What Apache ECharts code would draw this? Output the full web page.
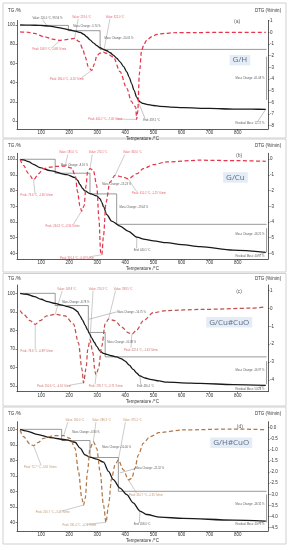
<!DOCTYPE html>
<html><head><meta charset="utf-8">
<script src="https://cdn.jsdelivr.net/npm/echarts@6/dist/echarts.min.js"></script>
<style>html,body{margin:0;padding:0;background:#fff}#c{width:288px;height:550px}</style>
</head><body><div id="c"></div>
<script>
// ---------- tick labels ----------
const tempTicks=[100,200,300,400,500,600,700,800];
const tgTicksA=[0,20,40,60,80,100];
const dtgTicksA=[1,0,-1,-2,-3,-4,-5,-6,-7,-8];
const tgTicksB=[40,50,60,70,80,90,100];
const dtgTicksB=[0,-1,-2,-3,-4,-5,-6];
const tgTicksC=[50,60,70,80,90,100];
const dtgTicksC=[1,0,-1,-2,-3,-4];
const tgTicksD=[40,50,60,70,80,90,100];
const dtgTicksD=[0,-0.5,-1,-1.5,-2,-2.5,-3,-3.5,-4,-4.5];
const sampleNames=['G/H','G/Cu','G/Cu#CuO','G/H#CuO'];
const panelTags=['(a)','(b)','(c)','(d)'];

// ---------- (a) G/H ----------
const tgA=[[25,100],[60,99.9],[96,99.6],[130,98.9],[156,97.6],[180,96.3],[203,94.8],[222,93.6],[239,92.3],[252,90.3],[262,87.8],[274,84.6],[286,81.5],[298,78.6],[310,76.3],[322,74.6],[334,73.2],[346,71.1],[357,68.6],[369,65.4],[381,61.7],[393,57],[405,51.2],[414,45.5],[422,39],[431,32],[440,25],[447,21.8],[452,19.9],[463,18.3],[476,17.4],[500,16.2],[523,15.3],[560,14.5],[606,13.9],[700,13.1],[784,12.5],[850,12.3],[900,12.2]];
const dtgA=[[25,0.05],[50,0.02],[76,-0.09],[112,-0.37],[140,-0.58],[168,-0.68],[195,-0.6],[219,-0.51],[236,-0.8],[248,-1.4],[257,-2.1],[268,-2.94],[280,-3.26],[290,-2.7],[298,-2.0],[310,-1.78],[322,-1.72],[334,-1.8],[357,-2.1],[381,-3.37],[405,-4.8],[422,-5.94],[432,-6.3],[437,-6.4],[440,-7.46],[444,-6.8],[450,-3.5],[458,-1.5],[467,-1.0],[476,-0.66],[495,-0.35],[512,-0.17],[540,-0.08],[571,-0.03],[650,-0.01],[800,0],[900,0]];
// ---------- (b) G/Cu ----------
const tgB=[[25,100],[37,99.6],[55,98.5],[73,96.8],[96,94.7],[132,92.8],[191,90.2],[221,88.3],[230,86.5],[238,84],[247,81.5],[256,79.8],[274,78.1],[298,76.6],[310,74.7],[316,72.5],[322,69.8],[334,64.7],[351,60.6],[381,57.4],[411,54],[441,50.3],[470,48.9],[500,47.9],[547,46.8],[600,45.6],[666,44.3],[784,42.1],[900,40.57]];
const dtgB=[[25,0],[37,-0.39],[55,-0.92],[73,-1.31],[91,-0.92],[108,-0.6],[132,-0.5],[156,-0.45],[185,-0.44],[209,-0.56],[221,-1.03],[230,-2.1],[238,-2.97],[244,-3.3],[253,-2.97],[260,-1.68],[265,-0.82],[274,-0.6],[286,-0.71],[298,-1.68],[306,-3.83],[312,-5.98],[316,-6.09],[322,-4.9],[331,-2.75],[345,-1.46],[363,-1.03],[393,-1.14],[410,-1.25],[441,-0.92],[464,-0.6],[500,-0.34],[547,-0.17],[666,-0.06],[800,-0.09],[900,-0.13]];
// ---------- (c) G/Cu#CuO ----------
const tgC=[[25,100],[48,99.5],[76,98.2],[100,96.8],[123,95.5],[150,94.6],[170,93.8],[195,92.8],[212,92],[222,91],[229,90.2],[238,88],[247,85.7],[256,83],[265,80.4],[273,78],[280,75.9],[289,73.6],[298,71.4],[310,68.8],[322,67.6],[334,67],[351,66.3],[369,65.7],[384,64.8],[399,63.4],[414,61.2],[428,58.9],[440,57],[452,55.4],[470,54.3],[488,53.6],[520,52.7],[547,52.1],[600,51.7],[666,51.4],[784,50.7],[900,50.28]];
const dtgC=[[25,-0.11],[37,-0.32],[61,-0.68],[79,-0.89],[96,-0.68],[120,-0.41],[150,-0.32],[185,-0.41],[215,-0.86],[233,-1.93],[245,-3.36],[251,-4.16],[260,-3.36],[266,-2.29],[274,-1.75],[284,-2.46],[292,-3.54],[296,-3.71],[304,-3.36],[316,-2.11],[328,-0.86],[340,-0.59],[363,-0.68],[387,-1.04],[411,-1.36],[423,-1.43],[440,-1.21],[464,-0.68],[500,-0.23],[547,-0.11],[666,-0.05],[850,0.02],[900,0.1]];
// ---------- (d) G/H#CuO ----------
const tgD=[[25,100],[49,98.9],[85,96.8],[132,94.7],[191,93.2],[221,91.7],[239,87.9],[256,83.6],[274,82.1],[298,80.9],[322,78.9],[340,73],[357,67.7],[381,62.3],[405,58.1],[428,52.8],[452,47.5],[476,45.3],[523,43.6],[606,42.8],[784,41.7],[900,41.0]];
const dtgD=[[25,-0.1],[37,-0.4],[61,-0.75],[73,-0.81],[90,-0.66],[108,-0.48],[144,-0.36],[180,-0.36],[203,-0.48],[221,-0.93],[233,-1.98],[245,-3.18],[251,-3.48],[257,-3.18],[265,-1.98],[274,-0.93],[286,-0.63],[298,-0.93],[310,-1.98],[322,-3.48],[331,-4.26],[340,-3.48],[351,-2.28],[363,-1.68],[375,-1.45],[393,-1.9],[411,-2.35],[423,-2.28],[434,-1.83],[446,-1.23],[464,-0.7],[488,-0.4],[523,-0.21],[606,-0.1],[784,-0.06],[900,-0.09]];

// ---------- annotations (data coordinates) ----------
const notesA=[
 {t:'Value: 120.0 °C, 99.56 %',ax:'t',p:[67,106.6],al:'l',c:'k',l:[[120,99.6],[105,105.6]]},
 {t:'Value: 219.0 °C',ax:'d',p:[209,1.3],al:'l',c:'r',l:[[219,-0.51],[232,1.15]]},
 {t:'Value: 322.0 °C',ax:'d',p:[328,1.3],al:'l',c:'r',l:[[322,-1.72],[345,1.15]]},
 {t:'Mass Change: -5.74 %',ax:'t',p:[213,98.3],al:'l',c:'k'},
 {t:'Mass Change: -20.05 %',ax:'t',p:[324,86],al:'l',c:'k'},
 {t:'Mass Change: -61.08 %',ax:'t',p:[897,44.3],al:'r',c:'k'},
 {t:'Peak: 168.5 °C, -0.68 %/min',ax:'d',p:[67,-1.43],al:'l',c:'r',l:[[168,-0.68],[135,-1.38]]},
 {t:'Peak: 280.0 °C, -3.26 %/min',ax:'d',p:[130,-4.0],al:'l',c:'r',l:[[280,-3.26],[240,-3.95]]},
 {t:'Peak: 440.2 °C, -7.46 %/min',ax:'d',p:[266,-7.43],al:'l',c:'r',l:[[440,-7.46],[370,-7.43]]},
 {t:'End: 459.5 °C',ax:'t',p:[462,0.5],al:'l',c:'k',l:[[445,21],[470,2.5]]},
 {t:'Residual Mass: 12.17 %',ax:'t',p:[897,-2.8],al:'r',c:'k',l:[[900,12.2],[870,-1]]}
];
const notesB=[
 {t:'Value: 185.0 °C',ax:'d',p:[162,0.43],al:'l',c:'r',l:[[185,-0.44],[195,0.3]]},
 {t:'Value: 274.1 °C',ax:'d',p:[268,0.43],al:'l',c:'r',l:[[274,-0.6],[282,0.3]]},
 {t:'Value: 363.0 °C',ax:'d',p:[390,0.43],al:'l',c:'r',l:[[363,-1.03],[398,0.3]]},
 {t:'Mass Change: -8.16 %',ax:'t',p:[168,96],al:'l',c:'k'},
 {t:'Mass Change: -13.23 %',ax:'t',p:[316,84],al:'l',c:'k'},
 {t:'Mass Change: -19.44 %',ax:'t',p:[377,69.1],al:'l',c:'k'},
 {t:'Mass Change: -18.25 %',ax:'t',p:[897,52.1],al:'r',c:'k'},
 {t:'Peak: 73.6 °C, -1.30 %/min',ax:'d',p:[25,-2.28],al:'l',c:'r',l:[[73,-1.31],[78,-2.18]]},
 {t:'Peak: 244.3 °C, -3.30 %/min',ax:'d',p:[114,-4.26],al:'l',c:'r',l:[[244,-3.3],[215,-4.15]]},
 {t:'Peak: 316.4 °C, -6.09 %/min',ax:'d',p:[165,-6.3],al:'l',c:'r',l:[[316,-6.09],[272,-6.22]]},
 {t:'Peak: 410.2 °C, -1.25 %/min',ax:'d',p:[422,-2.15],al:'l',c:'r',l:[[410,-1.25],[440,-2.05]]},
 {t:'End: 440.1 °C',ax:'t',p:[428,42.1],al:'l',c:'k',l:[[441,50.3],[440,43.2]]},
 {t:'Residual Mass: 40.57 %',ax:'t',p:[897,37.9],al:'r',c:'k',l:[[900,40.6],[870,38.6]]}
];
const notesC=[
 {t:'Value: 149.8 °C',ax:'d',p:[156,1.1],al:'l',c:'r',l:[[150,-0.32],[175,1.0]]},
 {t:'Value: 274.3 °C',ax:'d',p:[268,1.1],al:'l',c:'r',l:[[274,-1.75],[285,1.0]]},
 {t:'Value: 339.5 °C',ax:'d',p:[357,1.1],al:'l',c:'r',l:[[340,-0.59],[365,1.0]]},
 {t:'Mass Change: -8.78 %',ax:'t',p:[173,95.4],al:'l',c:'k'},
 {t:'Mass Change: -16.75 %',ax:'t',p:[369,90],al:'l',c:'k',l:[[270,86],[369,90]]},
 {t:'Mass Change: -10.38 %',ax:'t',p:[334,73.6],al:'l',c:'k'},
 {t:'Mass Change: -16.97 %',ax:'t',p:[897,58.6],al:'r',c:'k'},
 {t:'Peak: 78.6 °C, -0.89 %/min',ax:'d',p:[25,-2.38],al:'l',c:'r',l:[[79,-0.89],[79,-2.26]]},
 {t:'Peak: 250.6 °C, -4.16 %/min',ax:'d',p:[84,-4.34],al:'l',c:'r',l:[[251,-4.16],[200,-4.3]]},
 {t:'Peak: 295.7 °C, -3.71 %/min',ax:'d',p:[268,-4.34],al:'l',c:'r',l:[[296,-3.71],[292,-4.25]]},
 {t:'Peak: 422.6 °C, -1.43 %/min',ax:'d',p:[393,-2.32],al:'l',c:'r',l:[[423,-1.43],[420,-2.2]]},
 {t:'End: 456.4 °C',ax:'t',p:[440,49.6],al:'l',c:'k',l:[[452,55.4],[455,50.6]]},
 {t:'Residual Mass: 50.28 %',ax:'t',p:[897,48.2],al:'r',c:'k',l:[[900,50.3],[870,48.9]]}
];
const notesD=[
 {t:'Value: 180.0 °C',ax:'d',p:[185,0.34],al:'l',c:'r',l:[[180,-0.36],[195,0.25]]},
 {t:'Value: 286.3 °C',ax:'d',p:[280,0.34],al:'l',c:'r',l:[[286,-0.63],[295,0.25]]},
 {t:'Value: 375.2 °C',ax:'d',p:[390,0.34],al:'l',c:'r',l:[[375,-1.45],[400,0.25]]},
 {t:'Mass Change: -6.90 %',ax:'t',p:[209,98.1],al:'l',c:'k'},
 {t:'Mass Change: -10.40 %',ax:'t',p:[316,88.3],al:'l',c:'k'},
 {t:'Mass Change: -21.52 %',ax:'t',p:[434,74.7],al:'l',c:'k',l:[[380,72],[434,74.7]]},
 {t:'Mass Change: -18.32 %',ax:'t',p:[897,51.7],al:'r',c:'k'},
 {t:'Peak: 72.7 °C, -0.81 %/min',ax:'d',p:[37,-1.78],al:'l',c:'r',l:[[73,-0.81],[100,-1.7]]},
 {t:'Peak: 250.7 °C, -3.48 %/min',ax:'d',p:[79,-3.81],al:'l',c:'r',l:[[251,-3.48],[175,-3.75]]},
 {t:'Peak: 331.4 °C, -4.26 %/min',ax:'d',p:[174,-4.38],al:'l',c:'r',l:[[331,-4.26],[265,-4.35]]},
 {t:'Peak: 410.7 °C, -2.35 %/min',ax:'d',p:[411,-3.03],al:'l',c:'r',l:[[411,-2.35],[440,-2.95]]},
 {t:'End: 458.0 °C',ax:'t',p:[428,38.9],al:'l',c:'k',l:[[452,47.5],[450,40]]},
 {t:'Residual Mass: 40.71 %',ax:'t',p:[897,38.9],al:'r',c:'k',l:[[900,41],[870,39.5]]}
];
const stepsA=[[[96,99.6],[197,99.6],[197,94.1],[310,94.1],[310,74.6],[903,74.6]],[[903,67],[903,22]]];
const stepsB=[[[30,100],[150,100],[150,91.1],[274,91.1],[274,77.9],[369,77.9],[369,58.5],[903,58.5]],[[903,56],[903,40.6]]];
const stepsC=[[[30,100],[150,100],[150,93.4],[268,93.4],[268,78.9],[328,78.9],[328,65.7],[903,65.7]],[[903,63.4],[903,50.9]]];
const stepsD=[[[30,100],[173,100],[173,92.8],[274,92.8],[274,81.9],[375,81.9],[375,60.2],[903,60.2]],[[903,58.1],[903,40.2]]];
const boxPos=[[808,63.4],[792,88.4],[770,84.4],[777,91.3]];
const tagPos=[[798,104],[805,102],[805,101],[808,102]];

// ---------- layout / style ----------
const FF='"Liberation Sans", Arial, sans-serif';
const layout=[
 {top:20.5,h:108.5,tgR:[-8.3,104.7],dtgR:[-8.28,1.02],frame:[3,3,283,135],col:'#e5364b',nameGap:7},
 {top:153.3,h:105.7,tgR:[36.4,103.8],dtgR:[-6.36,0.38],frame:[3,139,283,133],col:'#e5364b',nameGap:5},
 {top:285,h:106.7,tgR:[46.9,104.5],dtgR:[-4.66,1.32],frame:[3,273.5,283,132.5],col:'#c0504d',nameGap:4},
 {top:421.7,h:109.3,tgR:[34.7,104.9],dtgR:[-4.65,0.27],frame:[3,407,283,137],col:'#b0784a',nameGap:5}
];
const panels=[
 {tg:tgA,dtg:dtgA,tgT:tgTicksA,dtgT:dtgTicksA,notes:notesA,steps:stepsA},
 {tg:tgB,dtg:dtgB,tgT:tgTicksB,dtgT:dtgTicksB,notes:notesB,steps:stepsB},
 {tg:tgC,dtg:dtgC,tgT:tgTicksC,dtgT:dtgTicksC,notes:notesC,steps:stepsC},
 {tg:tgD,dtg:dtgD,tgT:tgTicksD,dtgT:dtgTicksD,notes:notesD,steps:stepsD}
];

const grid=[],xAxis=[],yAxis=[],series=[],graphic=[];
const axCol='#333';
panels.forEach((p,i)=>{
  const L=layout[i];
  grid.push({left:17,right:20,top:L.top,height:L.h});
  graphic.push({type:'rect',shape:{x:L.frame[0],y:L.frame[1],width:L.frame[2],height:L.frame[3]},style:{fill:'none',stroke:'#d0d0d0',lineWidth:1},silent:true});
  xAxis.push({type:'value',gridIndex:i,min:14,max:908,name:'Temperature /°C',nameLocation:'middle',nameGap:4.5,
    nameTextStyle:{fontSize:4.5,color:axCol,fontFamily:FF},
    axisLine:{show:true,onZero:false,lineStyle:{color:axCol,width:0.8}},
    axisTick:{show:true,customValues:tempTicks,length:1.5,lineStyle:{color:axCol,width:0.6}},
    axisLabel:{customValues:tempTicks,fontSize:4.5,margin:1.2,color:axCol,fontFamily:FF},
    splitLine:{show:false}});
  const fmt = i===3 ? (v=>v.toFixed(1)) : (v=>String(v));
  yAxis.push({type:'value',gridIndex:i,position:'left',min:L.tgR[0],max:L.tgR[1],name:'TG /%',nameLocation:'end',nameGap:L.nameGap,
    nameTextStyle:{fontSize:4.5,color:axCol,fontFamily:FF,padding:[0,5,0,0]},
    axisLine:{show:true,onZero:false,lineStyle:{color:axCol,width:0.8}},
    axisTick:{show:true,customValues:p.tgT,length:1.5,lineStyle:{color:axCol,width:0.6}},
    axisLabel:{customValues:p.tgT,fontSize:4.5,margin:2,color:axCol,fontFamily:FF},
    splitLine:{show:false}});
  yAxis.push({type:'value',gridIndex:i,position:'right',min:L.dtgR[0],max:L.dtgR[1],name:'DTG (%/min)',nameLocation:'end',nameGap:L.nameGap,
    nameTextStyle:{fontSize:4.5,color:axCol,fontFamily:FF},
    axisLine:{show:true,onZero:false,lineStyle:{color:axCol,width:0.8}},
    axisTick:{show:true,customValues:p.dtgT,length:1.5,lineStyle:{color:axCol,width:0.6}},
    axisLabel:{customValues:p.dtgT,fontSize:4.5,margin:2,color:axCol,fontFamily:FF,formatter:fmt},
    splitLine:{show:false}});
  const yt=2*i, yd=2*i+1;
  series.push({type:'lines',coordinateSystem:'cartesian2d',xAxisIndex:i,yAxisIndex:yt,polyline:true,silent:true,clip:false,
    data:p.steps.map(s=>({coords:s})),lineStyle:{color:'#555',width:0.6,opacity:1}});
  const lt=p.notes.filter(n=>n.l&&n.ax==='t').map(n=>({coords:n.l}));
  const ld=p.notes.filter(n=>n.l&&n.ax==='d').map(n=>({coords:n.l}));
  series.push({type:'lines',coordinateSystem:'cartesian2d',xAxisIndex:i,yAxisIndex:yt,polyline:true,silent:true,clip:false,data:lt,lineStyle:{color:'#888',width:0.5,opacity:1}});
  series.push({type:'lines',coordinateSystem:'cartesian2d',xAxisIndex:i,yAxisIndex:yd,polyline:true,silent:true,clip:false,data:ld,lineStyle:{color:'#999',width:0.5,opacity:1}});
  series.push({type:'line',xAxisIndex:i,yAxisIndex:yt,data:p.tg,showSymbol:false,smooth:0.3,smoothMonotone:'x',silent:true,
    lineStyle:{color:'#1a1a1a',width:1.3}});
  series.push({type:'line',xAxisIndex:i,yAxisIndex:yd,data:p.dtg,showSymbol:false,smooth:0.3,smoothMonotone:'x',silent:true,
    lineStyle:{color:L.col,width:1.25,type:[4,2.5]}});
  const mk=(n)=>({value:n.p,label:{show:true,formatter:n.t,position:n.al==='l'?'right':(n.al==='r'?'left':'inside'),distance:0.5,
      fontSize:2.7,color:n.c==='r'?L.col:'#333',fontFamily:FF}});
  series.push({type:'scatter',xAxisIndex:i,yAxisIndex:yt,symbolSize:0,silent:true,clip:false,
    data:p.notes.filter(n=>n.ax==='t').map(mk)});
  series.push({type:'scatter',xAxisIndex:i,yAxisIndex:yd,symbolSize:0,silent:true,clip:false,
    data:p.notes.filter(n=>n.ax==='d').map(mk)});
  series.push({type:'scatter',xAxisIndex:i,yAxisIndex:yt,symbolSize:0,silent:true,clip:false,
    data:[{value:boxPos[i],label:{show:true,position:'inside',formatter:sampleNames[i],fontSize:8,color:'#3b4b6b',
      fontFamily:'"Open Sans", sans-serif',backgroundColor:'#dde7f3',padding:[1.5,3,1,3]}},
      {value:tagPos[i],label:{show:true,position:'inside',formatter:panelTags[i],fontSize:5,color:'#333',fontFamily:FF}}]});
});

const chart=echarts.init(document.getElementById('c'),null,{renderer:'canvas'});
chart.setOption({animation:false,backgroundColor:'#fff',grid,xAxis,yAxis,series,graphic});
</script></body></html>
